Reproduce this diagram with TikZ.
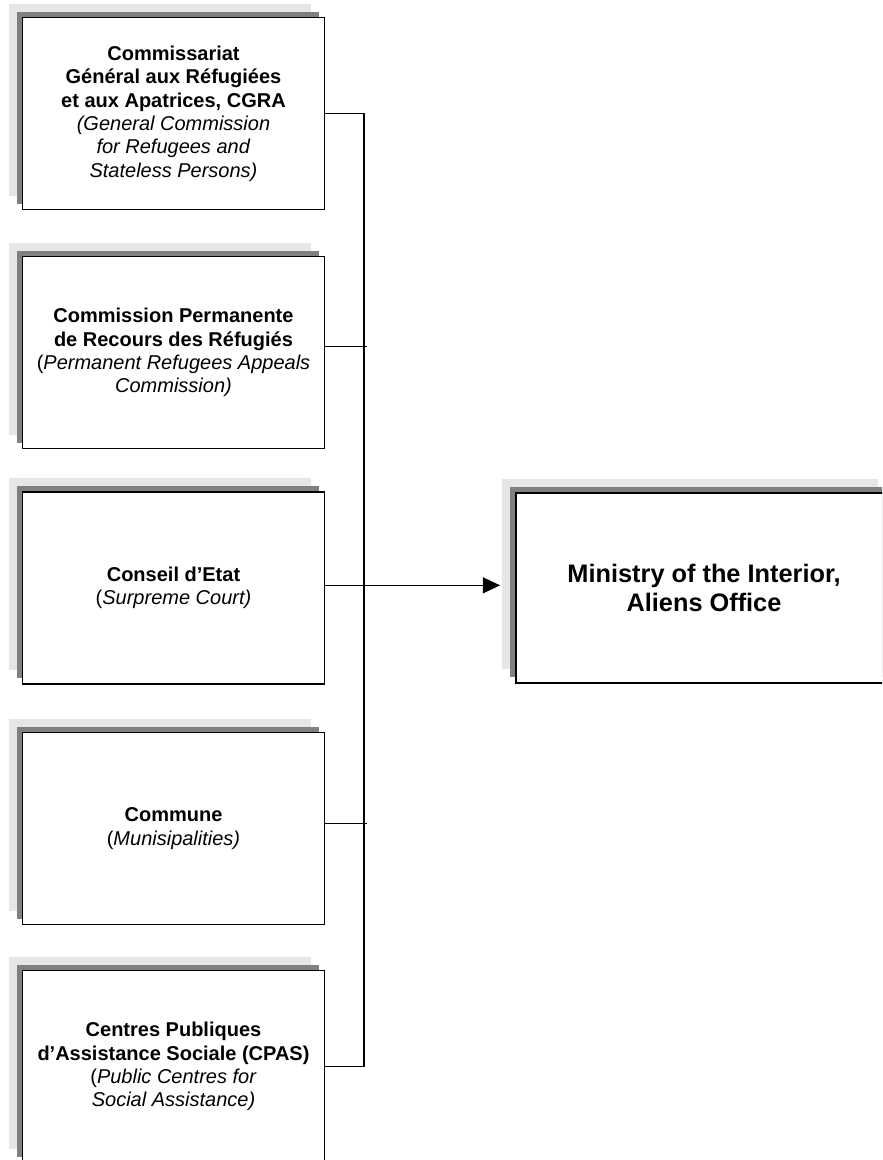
\documentclass[tikz,border=0pt]{standalone}
\usepackage{fontspec}
\setmainfont{Liberation Sans}
\usepackage{xcolor}
\usetikzlibrary{arrows.meta,shadows}
\definecolor{shadelight}{HTML}{E6E6E6}
\definecolor{shadedark}{HTML}{808080}
\tikzset{
	orgbox/.style={
			draw, line width=1.3pt, fill=white, align=center,
			minimum width=226.5pt, minimum height=144pt,
			font=\fontsize{15pt}{17.5pt}\selectfont,
			copy shadow={shadow xshift=-10.5pt, shadow yshift=10.5pt, fill=shadelight, draw=none},
			copy shadow={shadow xshift=-4.5pt, shadow yshift=4.5pt, fill=shadedark, draw=none}
		},
	link/.style={line width=1pt}
}

\begin{document}
\begin{tikzpicture}[x=0.75pt, y=-0.75pt]
			\clip (0,0) rectangle (882,1160);
			\useasboundingbox (0,0) rectangle (882,1160);

			% Define the bodies
			\node[orgbox] (cgra) at (173.5,113.5) {\textbf{Commissariat}\\\textbf{Général aux Réfugiées}\\\textbf{et aux Apatrices, CGRA}\\\textit{(General Commission}\\\textit{for Refugees and}\\\textit{Stateless Persons)}};
			\node[orgbox] (crr) at (173.5,352.5) {\textbf{Commission Permanente}\\\textbf{de Recours des Réfugiés}\\(\textit{Permanent Refugees Appeals}\\\textit{Commission)}};
			\node[orgbox] (conseil) at (173.5,588) {\textbf{Conseil d’Etat}\\(\textit{Surpreme Court)}};
			\node[orgbox] (commune) at (173.5,828.5) {\textbf{Commune}\\(\textit{Munisipalities)}};
			\node[orgbox] (cpas) at (173.5,1066.5) {\textbf{Centres Publiques}\\\textbf{d’Assistance Sociale (CPAS)}\\(\textit{Public Centres for}\\\textit{Social Assistance)}};
			\node[orgbox, minimum width=282pt, minimum height=142.5pt,
				font=\fontsize{19pt}{21.75pt}\selectfont\bfseries] (ministry) at (704,588) {Ministry of the Interior,\\Aliens Office};

			% Draw the links
			\coordinate (bus) at (364,600);
			\draw[link] (cgra.east) -| (bus) |- (cpas.east);
			\draw[link] ([yshift=4.5pt]crr.east) -- ++(42,0);
			\draw[link] ([yshift=4pt]commune.east) -- ++(42,0);
			\draw[link, -{Triangle[length=13pt, width=12pt]}, shorten >=11.25pt] ([yshift=2pt]conseil.east) -- ([yshift=2pt]conseil.east -| ministry.west);
		\end{tikzpicture}
\end{document}
